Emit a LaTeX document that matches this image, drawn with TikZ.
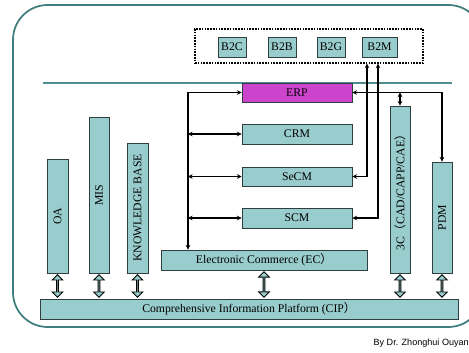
\documentclass[tikz,border=0pt]{standalone}
\usepackage{fontspec}
\setmainfont{Liberation Serif}
\newfontfamily\cjk{Noto Sans CJK SC}
\newfontfamily\arialf{Liberation Sans}
\usetikzlibrary{arrows.meta,shapes.arrows,calc}
\definecolor{tealfill}{HTML}{99CCCC}
\definecolor{frameteal}{HTML}{3F7C7C}
\definecolor{lineteal}{HTML}{4E8E8E}
\definecolor{erpmag}{HTML}{CC44CC}
\definecolor{boxborder}{HTML}{2F3F3F}
\tikzset{
 box/.style={draw=boxborder, line width=0.7pt, fill=tealfill, inner sep=0pt, font=\fontsize{8.8}{10}\selectfont},
 con/.style={draw=black, line width=0.9pt, {Stealth[length=3.4pt,width=3.4pt]}-{Stealth[length=3.4pt,width=3.4pt]}},
 hollow/.style={double arrow, draw=black, line width=0.7pt, fill=tealfill, inner sep=0pt, minimum width=8pt, double arrow head extend=2pt, rotate=90}
}
\newcommand\mkbox[7][]{%
 \pgfmathsetmacro\bw{(#5-#3)*0.75}%
 \pgfmathsetmacro\bh{(#6-#4)*0.75}%
 \node[box,minimum width=\bw pt,minimum height=\bh pt,#1] (#2) at ({(#3+#5)/2},{(#4+#6)/2}) {#7};}
\newcommand\mkvbox[7][]{%
 \pgfmathsetmacro\bw{(#5-#3)*0.75}%
 \pgfmathsetmacro\bh{(#6-#4)*0.75}%
 \node[box,rotate=90,minimum width=\bh pt,minimum height=\bw pt,#1] (#2) at ({(#3+#5)/2},{(#4+#6)/2}) {#7};}
\begin{document}
\begin{tikzpicture}[x=0.75pt,y=-0.75pt]
\useasboundingbox (0,0) rectangle (469,353);
\clip (0,0) rectangle (469,353);
% frame
\draw[frameteal, line width=1.3pt, rounded corners=26pt] (13,5) rectangle (483,327);
% horizontal line
\draw[lineteal, line width=1.4pt] (43,83) -- (452,83);
% dashed e-commerce box
\node[draw=black, line width=0.9pt, dash pattern=on 1.2pt off 0.9pt, inner sep=0pt,
  minimum width={228*0.75pt}, minimum height={34*0.75pt}] (ecbox) at (309,46) {};
\mkbox{B2C}{218}{37}{246}{57}{B2C}
\mkbox{B2B}{268}{37}{296}{57}{B2B}
\mkbox{B2G}{317}{37}{345}{57}{B2G}
\mkbox{B2M}{362}{37}{397}{57}{B2M}
% middle boxes
\mkbox[fill=erpmag]{ERP}{242}{83}{352}{102}{ERP}
\mkbox{CRM}{242}{124}{352}{144}{CRM}
\mkbox{SeCM}{242}{167}{352}{186}{SeCM}
\mkbox{SCM}{242}{208}{352}{228}{SCM}
\mkbox{EC}{161}{250}{367}{270}{Electronic Commerce (EC{\cjk ）}}
\mkbox{CIP}{40}{299}{458}{319}{Comprehensive Information Platform (CIP{\cjk ）}}
% columns
\mkvbox{OA}{47}{159}{68}{273}{OA}
\mkvbox{MIS}{89}{117}{109}{273}{MIS}
\mkvbox{KB}{127}{143}{148}{273}{KNOWLEDGE BASE}
\mkvbox{ThreeC}{390}{106}{410}{273}{3C{\cjk （}CAD/CAPP/CAE{\cjk ）}}
\mkvbox{PDM}{432}{162}{452}{273}{PDM}
% hollow arrows to CIP
\foreach \n in {OA,MIS,KB,ThreeC,PDM}
  \node[hollow, minimum height=17pt] at ($(\n.west)!0.5!(\n.west|-CIP.north)$) {};
\node[hollow, minimum height=19pt] at ($(EC.south)!0.5!(EC.south|-CIP.north)$) {};
% connectors
\coordinate (bus) at (188,0);
\coordinate (l1) at (367,0);
\coordinate (l2) at (378,0);
\draw[con] (ERP.west) -| (EC.north -| bus);
\foreach \n in {CRM,SeCM,SCM} \draw[con] (\n.west -| bus) -- (\n.west);
\draw[con] (SeCM.east) -| (ecbox.south -| l1);
\draw[con] (SCM.east) -| (ecbox.south -| l2);
\draw[con] (ERP.east) -| (PDM.east);
\draw[con] (ThreeC.east) -- (ThreeC.east |- ERP.east);
% credit
\node[anchor=east, inner sep=0pt, font=\arialf\fontsize{6.8}{8}\selectfont] (credit) at (469,343) {By Dr. Zhonghui Ouyan};
\end{tikzpicture}
\end{document}
